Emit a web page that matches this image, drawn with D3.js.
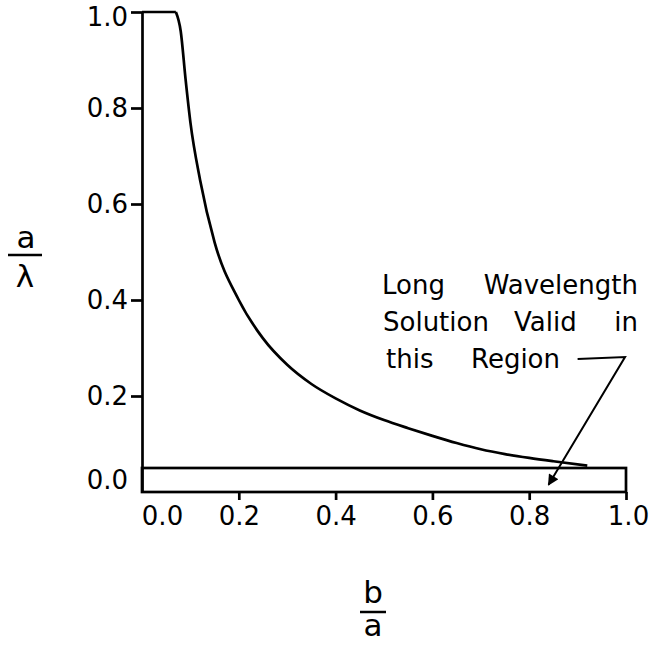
<!DOCTYPE html>
<html>
<head>
<meta charset="utf-8">
<script src="https://cdn.jsdelivr.net/npm/d3@7"></script>
<style>
  body { margin: 0; background: #fff; }
  svg { display: block; font-family: "DejaVu Sans", sans-serif; }
  .axis path, .axis line { stroke: #000; stroke-width: 2.7; }
  .axis text { fill: #000; font-size: 26px; font-family: "DejaVu Sans", sans-serif; }
</style>
</head>
<body>
<div id="svg-container"></div>
<script>
// data: b/a (x) and a/lambda (y)
const curveX = [0.0, 0.07, 0.08, 0.09, 0.10, 0.12, 0.15, 0.20, 0.25, 0.30, 0.35, 0.40, 0.45, 0.50, 0.55, 0.60, 0.65, 0.70, 0.75, 0.80, 0.85, 0.92];
const curveY = [1.0, 1.0, 0.96, 0.86, 0.77, 0.65, 0.52, 0.40, 0.32, 0.265, 0.225, 0.195, 0.17, 0.15, 0.133, 0.117, 0.102, 0.089, 0.079, 0.071, 0.064, 0.055];

// region where long wavelength solution is valid (a/lambda < 0.05)
const regionX = [0.0, 1.0];
const regionY = [0.0, 0.05];

// tick labels
const xTicks = [0.0, 0.2, 0.4, 0.6, 0.8, 1.0];
const yTicks = [0.0, 0.2, 0.4, 0.6, 0.8, 1.0];

// annotation arrow (data units): end of "Region" line -> corner -> tip
const arrowX = [0.90, 0.998, 0.84];
const arrowY = [0.277, 0.281, 0.015];

const width = 651, height = 645;
const svg = d3.select("#svg-container").append("svg")
  .attr("width", width).attr("height", height);

// scale
const xScale = d3.scaleLinear().domain([0, 1]).range([142, 626]);
const yScale = d3.scaleLinear().domain([0, 1]).range([492, 12]);

// arrow marker
svg.append("defs").append("marker")
  .attr("id", "arrow")
  .attr("viewBox", "0 0 10 10")
  .attr("refX", 9).attr("refY", 5)
  .attr("markerWidth", 14).attr("markerHeight", 11)
  .attr("markerUnits", "userSpaceOnUse")
  .attr("orient", "auto")
  .append("path")
  .attr("d", "M0,0 L10,5 L0,10 Z")
  .attr("fill", "#000");

// y axis (no tick line at 0, its label sits inside the strip)
const yAxis = d3.axisLeft(yScale)
  .tickValues(yTicks)
  .tickFormat(d3.format(".1f"))
  .tickSize(11)
  .tickSizeOuter(0)
  .tickPadding(3);

const gy = svg.append("g")
  .attr("class", "axis y-axis")
  .attr("transform", `translate(${xScale(0)},0)`)
  .call(yAxis);
gy.selectAll(".tick").filter((d) => d === 0).select("line").remove();
gy.selectAll(".tick").filter((d) => d === 0).select("text")
  .attr("y", yScale(regionY[1] / 2) - yScale(0));
gy.selectAll(".tick").filter((d) => d === 1).select("text").attr("y", 5);

// x axis
const xAxis = d3.axisBottom(xScale)
  .tickValues(xTicks)
  .tickFormat(d3.format(".1f"))
  .tickSize(8)
  .tickSizeOuter(0)
  .tickPadding(7);

const gx = svg.append("g")
  .attr("class", "axis x-axis")
  .attr("transform", `translate(0,${yScale(0)})`)
  .call(xAxis);
gx.select(".domain").remove();
gx.selectAll(".tick").filter((d) => d === 0).select("line").remove();
gx.selectAll(".tick").filter((d) => d === 0).select("text").attr("dx", 20);
gx.selectAll(".tick").filter((d) => d === 1).select("text").attr("dx", 2);

// strip (rectangle)
svg.append("rect")
  .attr("x", xScale(regionX[0]))
  .attr("y", yScale(regionY[1]))
  .attr("width", xScale(regionX[1]) - xScale(regionX[0]))
  .attr("height", yScale(regionY[0]) - yScale(regionY[1]))
  .attr("fill", "none")
  .attr("stroke", "#000")
  .attr("stroke-width", 2.7);

// curve
const curveData = curveX.map((x, i) => ({ x: x, y: curveY[i] }));
const line = d3.line()
  .x((d) => xScale(d.x))
  .y((d) => yScale(d.y))
  .curve(d3.curveMonotoneX);

// flat part at the top drawn straight, rest smoothed
svg.append("path")
  .datum(curveData.slice(0, 2))
  .attr("d", d3.line().x((d) => xScale(d.x)).y((d) => yScale(d.y)))
  .attr("fill", "none").attr("stroke", "#000").attr("stroke-width", 2.7);

svg.append("path")
  .datum(curveData.slice(1))
  .attr("d", line)
  .attr("fill", "none")
  .attr("stroke", "#000")
  .attr("stroke-width", 2.7);

// arrow
const arrowData = arrowX.map((x, i) => [xScale(x), yScale(arrowY[i])]);
svg.append("path")
  .attr("d", d3.line()(arrowData))
  .attr("fill", "none")
  .attr("stroke", "#000")
  .attr("stroke-width", 2)
  .attr("marker-end", "url(#arrow)");

// annotation text (justified lines, word by word)
const note = svg.append("g")
  .attr("font-size", 26)
  .attr("fill", "#000");
note.append("text").attr("x", 382).attr("y", 294).text("Long");
note.append("text").attr("x", 638).attr("y", 294).attr("text-anchor", "end").text("Wavelength");
note.append("text").attr("x", 383).attr("y", 331).text("Solution");
note.append("text").attr("x", 514).attr("y", 331).text("Valid");
note.append("text").attr("x", 638).attr("y", 331).attr("text-anchor", "end").text("in");
note.append("text").attr("x", 386).attr("y", 368).text("this");
note.append("text").attr("x", 471).attr("y", 368).text("Region");

// y axis title a / lambda
const yt = svg.append("g").attr("font-size", 31).attr("text-anchor", "middle");
yt.append("text").attr("x", 26).attr("y", 248).text("a");
yt.append("line").attr("x1", 8).attr("x2", 42).attr("y1", 255).attr("y2", 255)
  .attr("stroke", "#000").attr("stroke-width", 2.5);
yt.append("text").attr("x", 25).attr("y", 287).text("λ");

// x axis title b / a
const xt = svg.append("g").attr("font-size", 31).attr("text-anchor", "middle");
xt.append("text").attr("x", 373).attr("y", 603).text("b");
xt.append("line").attr("x1", 360).attr("x2", 386).attr("y1", 612).attr("y2", 612)
  .attr("stroke", "#000").attr("stroke-width", 2.5);
xt.append("text").attr("x", 373).attr("y", 636).text("a");
</script>
</body>
</html>
